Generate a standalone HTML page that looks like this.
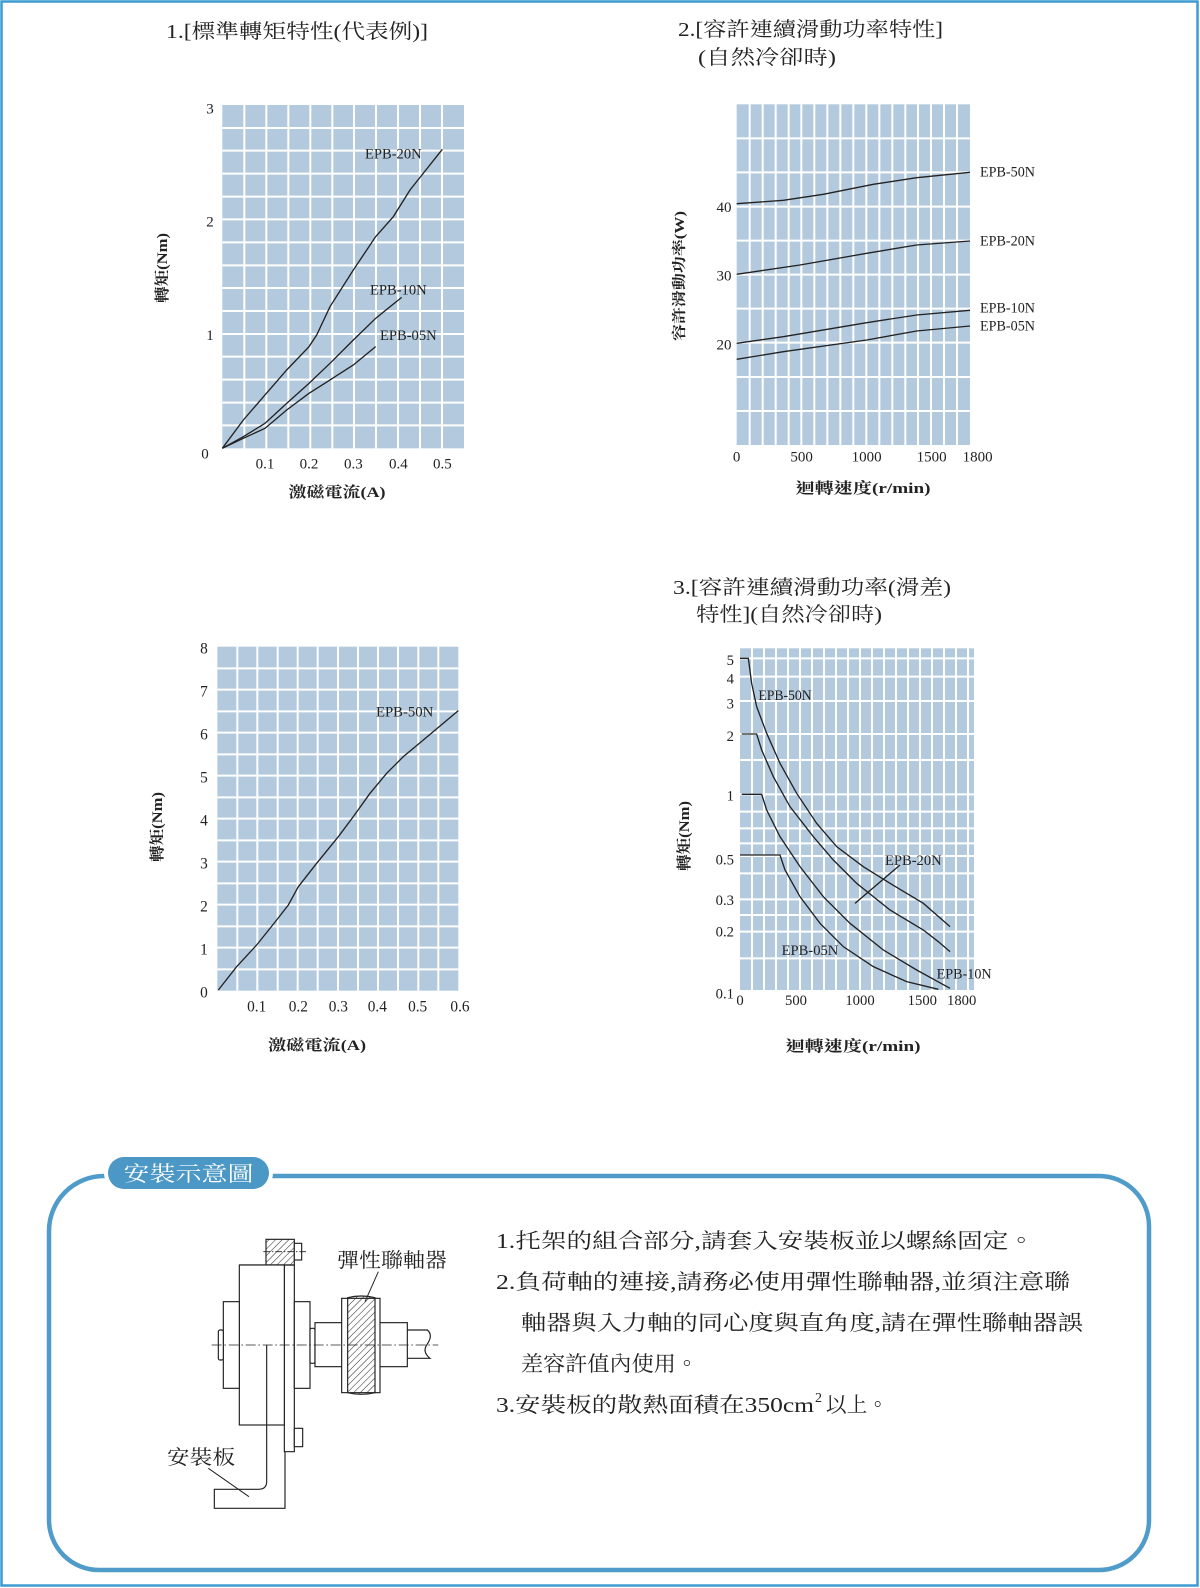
<!DOCTYPE html>
<html><head><meta charset="utf-8"><style>
html,body{margin:0;padding:0;background:#fff;}
svg{display:block;}
.t{font-family:"Liberation Serif","Noto Serif CJK TC","Noto Serif CJK SC",serif;fill:#222;}
.b{font-family:"Liberation Serif","Noto Serif CJK TC","Noto Serif CJK SC",serif;fill:#222;font-weight:bold;}
.n{font-family:"Liberation Serif",serif;fill:#222;}
</style></head><body>
<svg width="1200" height="1588" viewBox="0 0 1200 1588" xmlns="http://www.w3.org/2000/svg">
<rect x="1.5" y="1.5" width="1196" height="1584" fill="none" stroke="#3d9bd0" stroke-width="2.5"/>

<text class="t" x="166" y="38" font-size="20" textLength="262" lengthAdjust="spacingAndGlyphs">1.[標準轉矩特性(代表例)]</text>
<text class="t" x="678" y="36" font-size="20" textLength="265" lengthAdjust="spacingAndGlyphs">2.[容許連續滑動功率特性]</text>
<text class="t" x="698" y="64" font-size="20" textLength="138" lengthAdjust="spacingAndGlyphs">(自然冷卻時)</text>
<text class="t" x="673" y="594" font-size="20" textLength="278" lengthAdjust="spacingAndGlyphs">3.[容許連續滑動功率(滑差)</text>
<text class="t" x="696" y="621" font-size="20" textLength="186" lengthAdjust="spacingAndGlyphs">特性](自然冷卻時)</text>

<!-- Chart 1 -->
<g transform="translate(190,90) scale(0.33333)">
<rect x="97" y="45" width="725" height="1030" fill="#b3c9dd"/>
<g stroke="#fff" stroke-width="6">
<line x1="163" y1="45" x2="163" y2="1075"/><line x1="229" y1="45" x2="229" y2="1075"/><line x1="295" y1="45" x2="295" y2="1075"/><line x1="361" y1="45" x2="361" y2="1075"/><line x1="427" y1="45" x2="427" y2="1075"/><line x1="492" y1="45" x2="492" y2="1075"/><line x1="558" y1="45" x2="558" y2="1075"/><line x1="624" y1="45" x2="624" y2="1075"/><line x1="690" y1="45" x2="690" y2="1075"/><line x1="756" y1="45" x2="756" y2="1075"/>
<line x1="97" y1="114" x2="822" y2="114"/><line x1="97" y1="182" x2="822" y2="182"/><line x1="97" y1="251" x2="822" y2="251"/><line x1="97" y1="320" x2="822" y2="320"/><line x1="97" y1="388" x2="822" y2="388"/><line x1="97" y1="457" x2="822" y2="457"/><line x1="97" y1="526" x2="822" y2="526"/><line x1="97" y1="594" x2="822" y2="594"/><line x1="97" y1="663" x2="822" y2="663"/><line x1="97" y1="732" x2="822" y2="732"/><line x1="97" y1="800" x2="822" y2="800"/><line x1="97" y1="869" x2="822" y2="869"/><line x1="97" y1="938" x2="822" y2="938"/><line x1="97" y1="1006" x2="822" y2="1006"/>
</g>
<g fill="none" stroke="#222" stroke-width="4">
<polyline points="97,1075 160,990 225,915 290,840 357,770 380,735 420,650 490,540 557,440 610,380 660,300 757,178"/>
<polyline points="97,1075 160,1040 225,1000 290,940 357,880 420,820 490,750 557,685 635,622"/>
<polyline points="97,1075 160,1045 225,1015 290,960 357,910 420,870 490,825 557,770"/>
</g>
<g class="n" font-size="45" text-anchor="middle">
<text x="60" y="70">3</text><text x="60" y="410">2</text><text x="60" y="750">1</text><text x="45" y="1105">0</text>
<text x="225" y="1135">0.1</text><text x="357" y="1135">0.2</text><text x="490" y="1135">0.3</text><text x="625" y="1135">0.4</text><text x="757" y="1135">0.5</text>
</g>
<g class="n" font-size="44">
<text x="525" y="205" textLength="170" lengthAdjust="spacingAndGlyphs">EPB-20N</text>
<text x="540" y="613" textLength="170" lengthAdjust="spacingAndGlyphs">EPB-10N</text>
<text x="570" y="750" textLength="170" lengthAdjust="spacingAndGlyphs">EPB-05N</text>
</g>
</g>
<text class="b" x="337" y="497" font-size="15" text-anchor="middle" textLength="97" lengthAdjust="spacingAndGlyphs">激磁電流(A)</text>
<text class="b" font-size="15" text-anchor="middle" transform="translate(167,268) rotate(-90)" textLength="70" lengthAdjust="spacingAndGlyphs">轉矩(Nm)</text>

<!-- Chart 2 -->
<g transform="translate(700,95) scale(0.33333)">
<rect x="110" y="28" width="700" height="1022" fill="#b3c9dd"/>
<g stroke="#fff" stroke-width="6">
<line x1="149" y1="28" x2="149" y2="1050"/><line x1="188" y1="28" x2="188" y2="1050"/><line x1="227" y1="28" x2="227" y2="1050"/><line x1="266" y1="28" x2="266" y2="1050"/><line x1="304" y1="28" x2="304" y2="1050"/><line x1="343" y1="28" x2="343" y2="1050"/><line x1="382" y1="28" x2="382" y2="1050"/><line x1="421" y1="28" x2="421" y2="1050"/><line x1="460" y1="28" x2="460" y2="1050"/><line x1="499" y1="28" x2="499" y2="1050"/><line x1="538" y1="28" x2="538" y2="1050"/><line x1="577" y1="28" x2="577" y2="1050"/><line x1="616" y1="28" x2="616" y2="1050"/><line x1="654" y1="28" x2="654" y2="1050"/><line x1="693" y1="28" x2="693" y2="1050"/><line x1="732" y1="28" x2="732" y2="1050"/><line x1="771" y1="28" x2="771" y2="1050"/>
<line x1="110" y1="130" x2="810" y2="130"/><line x1="110" y1="232" x2="810" y2="232"/><line x1="110" y1="335" x2="810" y2="335"/><line x1="110" y1="437" x2="810" y2="437"/><line x1="110" y1="539" x2="810" y2="539"/><line x1="110" y1="641" x2="810" y2="641"/><line x1="110" y1="743" x2="810" y2="743"/><line x1="110" y1="846" x2="810" y2="846"/><line x1="110" y1="948" x2="810" y2="948"/>
</g>
<g fill="none" stroke="#222" stroke-width="4">
<polyline points="110,326 250,316 370,298 520,268 650,248 810,232"/>
<polyline points="110,538 300,510 500,475 650,450 810,438"/>
<polyline points="110,745 250,725 500,683 650,660 810,646"/>
<polyline points="110,793 250,770 500,735 650,708 810,693"/>
</g>
<g class="n" font-size="45" text-anchor="middle">
<text x="72" y="351">40</text><text x="72" y="556">30</text><text x="72" y="764">20</text>
<text x="110" y="1100">0</text><text x="305" y="1100">500</text><text x="500" y="1100">1000</text><text x="695" y="1100">1500</text><text x="833" y="1100">1800</text>
</g>
<g class="n" font-size="44">
<text x="840" y="245" textLength="165" lengthAdjust="spacingAndGlyphs">EPB-50N</text>
<text x="840" y="452" textLength="165" lengthAdjust="spacingAndGlyphs">EPB-20N</text>
<text x="840" y="653" textLength="165" lengthAdjust="spacingAndGlyphs">EPB-10N</text>
<text x="840" y="706" textLength="165" lengthAdjust="spacingAndGlyphs">EPB-05N</text>
</g>
</g>
<text class="b" x="863" y="493" font-size="15" text-anchor="middle" textLength="135" lengthAdjust="spacingAndGlyphs">迴轉速度(r/min)</text>
<text class="b" font-size="14" text-anchor="middle" transform="translate(684,276) rotate(-90)" textLength="130" lengthAdjust="spacingAndGlyphs">容許滑動功率(W)</text>

<!-- Chart 4 -->
<g transform="translate(140,620) scale(0.33333)">
<rect x="232" y="80" width="723" height="1032" fill="#b3c9dd"/>
<g stroke="#fff" stroke-width="6">
<line x1="292" y1="80" x2="292" y2="1112"/><line x1="352" y1="80" x2="352" y2="1112"/><line x1="413" y1="80" x2="413" y2="1112"/><line x1="473" y1="80" x2="473" y2="1112"/><line x1="533" y1="80" x2="533" y2="1112"/><line x1="594" y1="80" x2="594" y2="1112"/><line x1="654" y1="80" x2="654" y2="1112"/><line x1="714" y1="80" x2="714" y2="1112"/><line x1="774" y1="80" x2="774" y2="1112"/><line x1="835" y1="80" x2="835" y2="1112"/><line x1="895" y1="80" x2="895" y2="1112"/>
<line x1="232" y1="145" x2="955" y2="145"/><line x1="232" y1="209" x2="955" y2="209"/><line x1="232" y1="274" x2="955" y2="274"/><line x1="232" y1="338" x2="955" y2="338"/><line x1="232" y1="403" x2="955" y2="403"/><line x1="232" y1="467" x2="955" y2="467"/><line x1="232" y1="532" x2="955" y2="532"/><line x1="232" y1="596" x2="955" y2="596"/><line x1="232" y1="661" x2="955" y2="661"/><line x1="232" y1="725" x2="955" y2="725"/><line x1="232" y1="790" x2="955" y2="790"/><line x1="232" y1="854" x2="955" y2="854"/><line x1="232" y1="919" x2="955" y2="919"/><line x1="232" y1="983" x2="955" y2="983"/><line x1="232" y1="1048" x2="955" y2="1048"/>
</g>
<polyline fill="none" stroke="#222" stroke-width="4" points="235,1110 290,1040 350,975 410,900 445,855 475,800 530,730 595,650 640,590 690,520 740,460 790,410 850,360 955,272"/>
<g class="n" font-size="46" text-anchor="middle">
<text x="192" y="100">8</text><text x="192" y="229">7</text><text x="192" y="358">6</text><text x="192" y="487">5</text><text x="192" y="616">4</text><text x="192" y="745">3</text><text x="192" y="874">2</text><text x="192" y="1003">1</text><text x="192" y="1132">0</text>
<text x="350" y="1175">0.1</text><text x="475" y="1175">0.2</text><text x="595" y="1175">0.3</text><text x="712" y="1175">0.4</text><text x="833" y="1175">0.5</text><text x="960" y="1175">0.6</text>
</g>
<text class="n" font-size="44" x="708" y="290" textLength="172" lengthAdjust="spacingAndGlyphs">EPB-50N</text>
</g>
<text class="b" x="317" y="1050" font-size="15" text-anchor="middle" textLength="98" lengthAdjust="spacingAndGlyphs">激磁電流(A)</text>
<text class="b" font-size="15" text-anchor="middle" transform="translate(162,827) rotate(-90)" textLength="70" lengthAdjust="spacingAndGlyphs">轉矩(Nm)</text>

<!-- Chart 3 -->
<g transform="translate(690,630) scale(0.33333)">
<rect x="150" y="55" width="702" height="1025" fill="#b3c9dd"/>
<g stroke="#fff" stroke-width="6">
<line x1="186" y1="55" x2="186" y2="1080"/><line x1="222" y1="55" x2="222" y2="1080"/><line x1="258" y1="55" x2="258" y2="1080"/><line x1="294" y1="55" x2="294" y2="1080"/><line x1="330" y1="55" x2="330" y2="1080"/><line x1="366" y1="55" x2="366" y2="1080"/><line x1="402" y1="55" x2="402" y2="1080"/><line x1="438" y1="55" x2="438" y2="1080"/><line x1="474" y1="55" x2="474" y2="1080"/><line x1="510" y1="55" x2="510" y2="1080"/><line x1="546" y1="55" x2="546" y2="1080"/><line x1="582" y1="55" x2="582" y2="1080"/><line x1="618" y1="55" x2="618" y2="1080"/><line x1="654" y1="55" x2="654" y2="1080"/><line x1="690" y1="55" x2="690" y2="1080"/><line x1="726" y1="55" x2="726" y2="1080"/><line x1="762" y1="55" x2="762" y2="1080"/><line x1="798" y1="55" x2="798" y2="1080"/><line x1="834" y1="55" x2="834" y2="1080"/>
<line x1="150" y1="85" x2="852" y2="85"/><line x1="150" y1="140" x2="852" y2="140"/><line x1="150" y1="213" x2="852" y2="213"/><line x1="150" y1="312" x2="852" y2="312"/><line x1="150" y1="390" x2="852" y2="390"/><line x1="150" y1="493" x2="852" y2="493"/><line x1="150" y1="545" x2="852" y2="545"/><line x1="150" y1="595" x2="852" y2="595"/><line x1="150" y1="640" x2="852" y2="640"/><line x1="150" y1="678" x2="852" y2="678"/><line x1="150" y1="730" x2="852" y2="730"/><line x1="150" y1="808" x2="852" y2="808"/><line x1="150" y1="855" x2="852" y2="855"/><line x1="150" y1="905" x2="852" y2="905"/><line x1="150" y1="985" x2="852" y2="985"/>
</g>
<g fill="none" stroke="#222" stroke-width="4">
<polyline points="150,85 175,85 185,160 200,230 230,310 270,400 320,490 380,580 440,650 520,710 600,760 700,820 780,890"/>
<polyline points="155,312 200,312 215,360 250,440 300,530 370,620 430,690 500,760 600,840 700,900 745,935 780,965"/>
<polyline points="155,493 215,493 230,540 270,620 330,710 400,800 480,880 580,960 680,1020 780,1075"/>
<polyline points="150,675 270,675 285,720 330,800 390,880 460,950 550,1010 650,1055 745,1078"/>
<line x1="630" y1="705" x2="495" y2="820"/>
</g>
<g class="n" font-size="44" text-anchor="end">
<text x="132" y="105">5</text><text x="132" y="160">4</text><text x="132" y="235">3</text><text x="132" y="333">2</text><text x="132" y="512">1</text><text x="132" y="703">0.5</text><text x="132" y="825">0.3</text><text x="132" y="920">0.2</text><text x="132" y="1105">0.1</text>
</g>
<g class="n" font-size="44" text-anchor="middle">
<text x="150" y="1125">0</text><text x="318" y="1125">500</text><text x="510" y="1125">1000</text><text x="697" y="1125">1500</text><text x="815" y="1125">1800</text>
</g>
<g class="n" font-size="44">
<text x="205" y="210" textLength="160" lengthAdjust="spacingAndGlyphs">EPB-50N</text>
<text x="585" y="705" textLength="170" lengthAdjust="spacingAndGlyphs">EPB-20N</text>
<text x="275" y="975" textLength="170" lengthAdjust="spacingAndGlyphs">EPB-05N</text>
<text x="740" y="1045" textLength="165" lengthAdjust="spacingAndGlyphs">EPB-10N</text>
</g>
</g>
<text class="b" x="853" y="1051" font-size="15" text-anchor="middle" textLength="135" lengthAdjust="spacingAndGlyphs">迴轉速度(r/min)</text>
<text class="b" font-size="15" text-anchor="middle" transform="translate(689,836) rotate(-90)" textLength="70" lengthAdjust="spacingAndGlyphs">轉矩(Nm)</text>

<!-- Bottom box -->
<path d="M104,1176 H1099 A50,50 0 0 1 1149,1226 V1520 A50,50 0 0 1 1099,1570 H99 A50,50 0 0 1 49,1520 V1231 A55,55 0 0 1 104,1176 Z" fill="none" stroke="#4f9bc9" stroke-width="4.5"/>
<rect x="104" y="1154" width="169" height="38" rx="19" fill="#fff"/>
<rect x="108" y="1157" width="161" height="32" rx="16" fill="#4b97c6"/>
<text x="188.5" y="1181" font-size="21" text-anchor="middle" fill="#fff" font-family="'Noto Serif CJK TC','Noto Serif CJK SC',serif" textLength="130" lengthAdjust="spacingAndGlyphs">安裝示意圖</text>

<!-- Diagram -->
<g transform="translate(150,1200) scale(0.33333)" fill="none" stroke="#222" stroke-width="3.5">
<defs><pattern id="h" width="14" height="14" patternUnits="userSpaceOnUse" patternTransform="rotate(45)"><line x1="0" y1="0" x2="0" y2="14" stroke="#222" stroke-width="3"/></pattern></defs>
<rect x="348" y="118" width="85" height="77" fill="url(#h)"/>
<rect x="433" y="130" width="22" height="50" fill="#fff"/>
<line x1="340" y1="155" x2="470" y2="155" stroke-dasharray="20,6,4,6" stroke-width="2.5"/>
<path d="M268,195 H403 V755 H433 V195 H403"/>
<rect x="268" y="195" width="135" height="480" fill="#fff"/>
<line x1="350" y1="435" x2="350" y2="845"/>
<path d="M350,845 Q350,868 325,868 H193 V925 H405 V755"/>
<rect x="220" y="305" width="48" height="260" fill="#fff"/>
<rect x="205" y="390" width="15" height="90" rx="5" fill="#fff"/>
<rect x="433" y="305" width="47" height="260" fill="#fff"/>
<rect x="480" y="385" width="15" height="105" rx="5" fill="#fff"/>
<rect x="495" y="368" width="277" height="132" fill="#fff"/>
<rect x="575" y="295" width="115" height="283" fill="#fff"/>
<path d="M593,293 Q634,283 675,293 V578 Q634,588 593,578 Z" fill="url(#h)"/>
<path d="M772,390 H832 Q850,405 832,432 Q815,455 840,475 H772"/>
<line x1="185" y1="435" x2="865" y2="435" stroke-dasharray="30,8,5,8" stroke-width="2.5"/>
<rect x="433" y="685" width="25" height="55" fill="#fff"/>
<line x1="685" y1="215" x2="645" y2="305" stroke-width="3"/>
<line x1="175" y1="805" x2="297" y2="890" stroke-width="3"/>
</g>
<text class="t" x="337" y="1267" font-size="20" textLength="110" lengthAdjust="spacingAndGlyphs">彈性聯軸器</text>
<text class="t" x="167" y="1464" font-size="20" textLength="68" lengthAdjust="spacingAndGlyphs">安裝板</text>

<!-- Notes -->
<g class="t" font-size="21">
<text x="496" y="1248" textLength="538" lengthAdjust="spacingAndGlyphs">1.托架的組合部分,請套入安裝板並以螺絲固定。</text>
<text x="496" y="1289" textLength="574" lengthAdjust="spacingAndGlyphs">2.負荷軸的連接,請務必使用彈性聯軸器,並須注意聯</text>
<text x="521" y="1330" textLength="562" lengthAdjust="spacingAndGlyphs">軸器與入力軸的同心度與直角度,請在彈性聯軸器誤</text>
<text x="521" y="1371" textLength="177" lengthAdjust="spacingAndGlyphs">差容許值內使用。</text>
<text x="496" y="1412" textLength="318" lengthAdjust="spacingAndGlyphs">3.安裝板的散熱面積在350cm</text>
<text x="815" y="1402" font-size="14">2</text>
<text x="826" y="1412" textLength="62" lengthAdjust="spacingAndGlyphs">以上。</text>
</g>
</svg>
</body></html>
